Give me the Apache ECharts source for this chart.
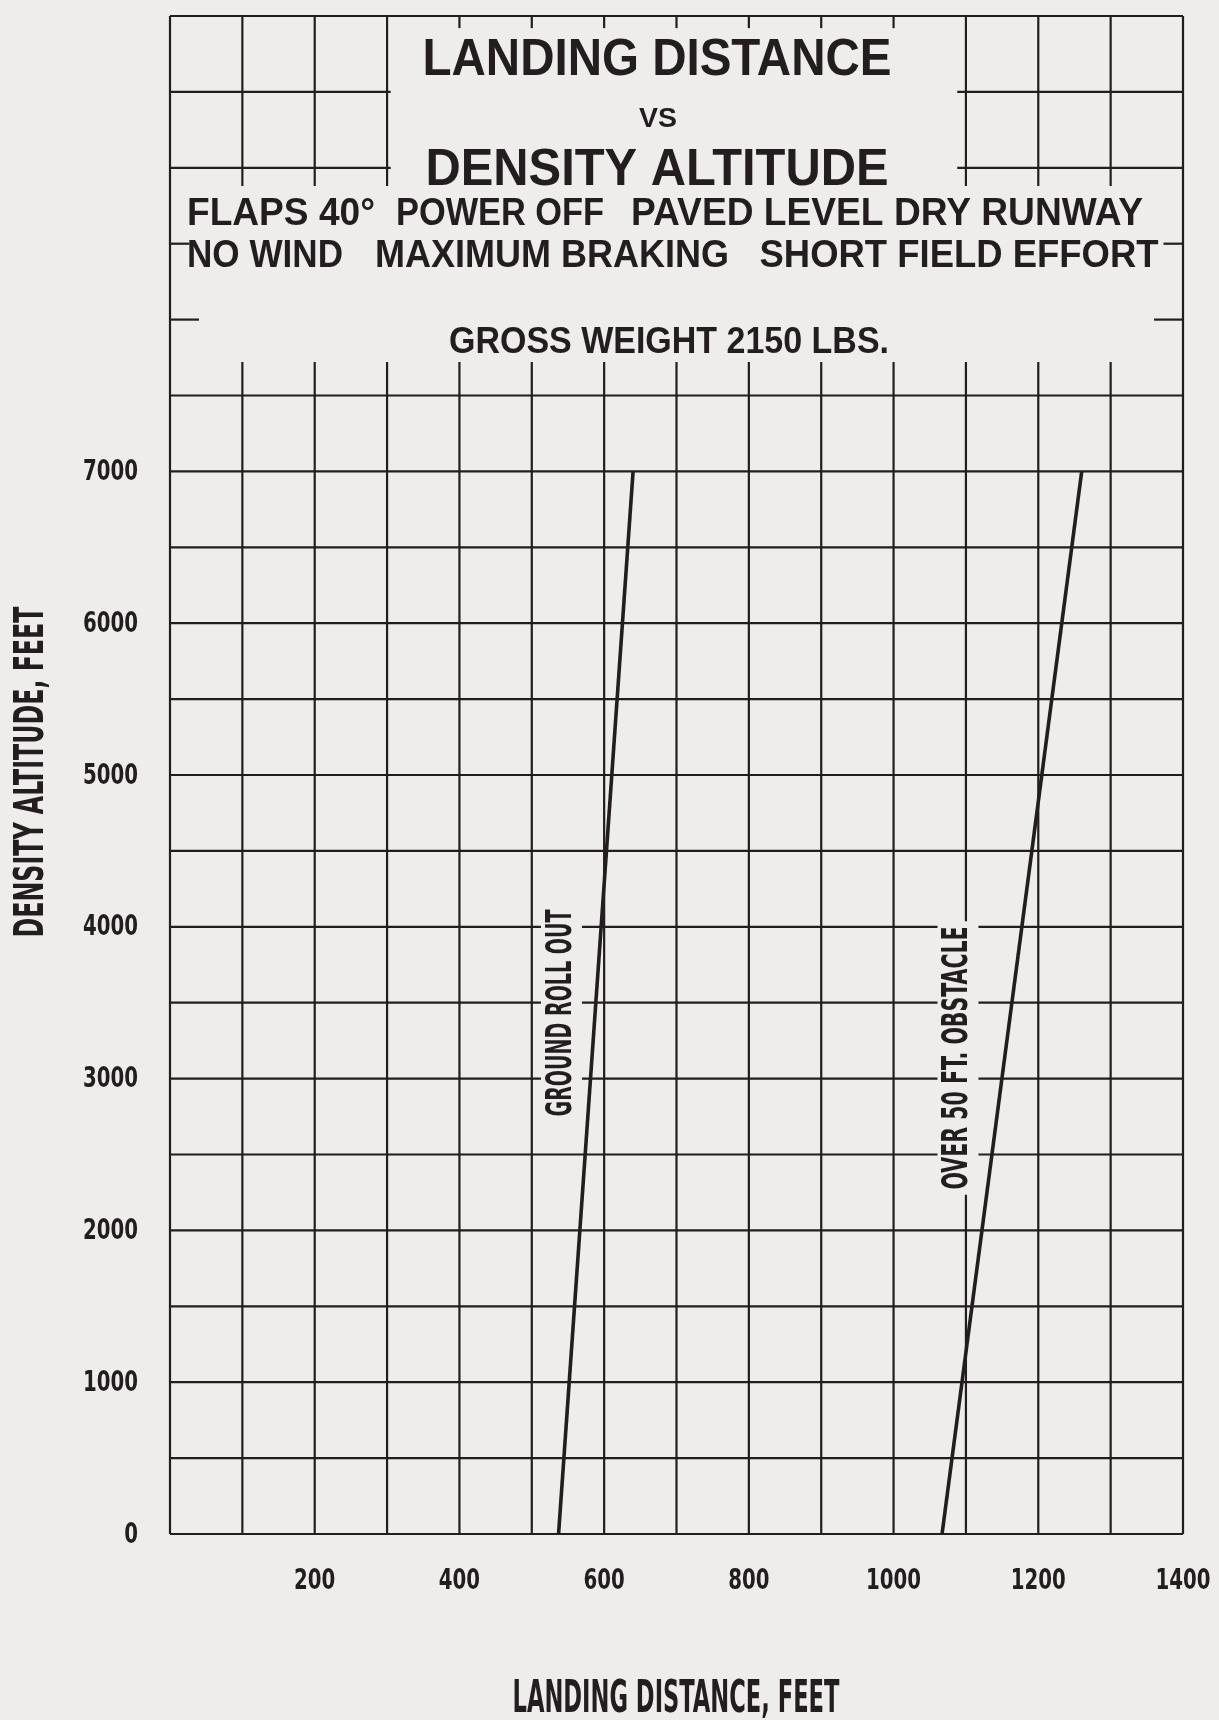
<!DOCTYPE html>
<html><head><meta charset="utf-8">
<script src="https://cdn.jsdelivr.net/npm/echarts@6/dist/echarts.min.js"></script>
<style>html,body{margin:0;padding:0;background:#edeceb}#c{width:1219px;height:1720px}</style>
</head><body><div id="c"></div><script>
// ---- data ----
const groundRoll = [[537, 0], [640, 7000]];
const over50ft = [[1067, 0], [1260, 7000]];
const seriesNames = ['GROUND ROLL OUT', 'OVER 50 FT. OBSTACLE'];
const xTickValues = [200, 400, 600, 800, 1000, 1200, 1400];
const yTickValues = [0, 1000, 2000, 3000, 4000, 5000, 6000, 7000];
const titleMain1 = 'LANDING DISTANCE';
const titleVs = 'VS';
const titleMain2 = 'DENSITY ALTITUDE';
const condLine1 = ['FLAPS 40°', 'POWER OFF', 'PAVED LEVEL DRY RUNWAY'];
const condLine2 = ['NO WIND', 'MAXIMUM BRAKING', 'SHORT FIELD EFFORT'];
const weightText = 'GROSS WEIGHT 2150 LBS.';
const xName = 'LANDING DISTANCE, FEET';
const yName = 'DENSITY ALTITUDE, FEET';

// chart ruling (data coordinates)
const hRules = [500,1000,1500,2000,2500,3000,3500,4000,4500,5000,5500,6000,6500,7000,7500];
const vRules = [100,200,300,400,500,600,700,800,900,1000,1100,1200,1300];
const vRulesTopLong = [100,200,300,1100,1200,1300];
const vRulesTopShort = [400,500,600,700,800,900,1000];
const hRulesTopPartial = [9000, 9500];
const edgeTickRules = [[8500, 27], [8000, 40]];

// ---- build segments ----
const segs = [];
segs.push([0,0,1400,0],[0,10000,1400,10000],[0,0,0,10000],[1400,0,1400,10000]);
hRules.forEach(v => segs.push([0,v,1400,v]));
vRules.forEach(v => segs.push([v,0,v,7720]));
vRulesTopLong.forEach(v => segs.push([v,8880,v,10000]));
vRulesTopShort.forEach(v => segs.push([v,9920,v,10000]));
hRulesTopPartial.forEach(v => { segs.push([0,v,305,v]); segs.push([1088,v,1400,v]); });
edgeTickRules.forEach(([v,len]) => { segs.push([0,v,len,v]); segs.push([1400-len,v,1400,v]); });

const INK = '#231d1f';
const BG = '#eeedec';
const NARROW = '"Liberation Sans Narrow","DejaVu Sans Condensed",sans-serif';
const WIDE = '"Liberation Sans","DejaVu Sans",sans-serif';

const mctx = document.createElement('canvas').getContext('2d');
function fit(text, font, w) { mctx.font = font; return w / mctx.measureText(text).width; }
function txt(text, family, size, cx, cy, w, rot) {
  const font = 'bold ' + size + 'px ' + family;
  return {
    type: 'text', x: cx, y: cy, rotation: rot || 0, scaleX: fit(text, font, w), z: 10,
    style: { text: text, font: font, fill: INK, align: 'center', verticalAlign: 'middle' }
  };
}

const graphics = [
  txt(titleMain1, WIDE, 52, 657, 61, 469),
  txt(titleVs, WIDE, 27, 658, 120, 38),
  txt(titleMain2, WIDE, 52, 657, 171, 463),
  txt(condLine1[0], WIDE, 38, 281, 215, 188),
  txt(condLine1[1], WIDE, 38, 500, 215, 208),
  txt(condLine1[2], WIDE, 38, 887, 215, 512),
  txt(condLine2[0], WIDE, 38, 265, 257, 156),
  txt(condLine2[1], WIDE, 38, 552, 257, 354),
  txt(condLine2[2], WIDE, 38, 959, 257, 399),
  txt(weightText, WIDE, 36, 669, 343, 440),
  txt(xName, NARROW, 44, 676, 1701, 327),
  txt(yName, NARROW, 40, 33, 772, 331, Math.PI / 2)
];

// label anchors (data coords) and lengths
const labelLayout = [
  { at: [541, 3432], len: 207, size: 35 },
  { at: [1089, 3136], len: 263, size: 35 }
];

const TICK_FONT = 'bold 29px ' + NARROW;
const TICK_SCALE = fit('0000', TICK_FONT, 55);

const chart = echarts.init(document.getElementById('c'), null, { renderer: 'canvas' });
chart.setOption({
  backgroundColor: BG,
  animation: false,
  grid: { left: 170, right: 36, top: 16, bottom: 186, containLabel: false, outerBoundsMode: 'none' },
  xAxis: {
    type: 'value', min: 0, max: 1400, interval: 200,
    axisLine: { show: false }, axisTick: { show: false }, splitLine: { show: false },
    axisLabel: { show: false }
  },
  yAxis: {
    type: 'value', min: 0, max: 10000, interval: 1000,
    axisLine: { show: false }, axisTick: { show: false }, splitLine: { show: false },
    axisLabel: { show: false }
  },
  graphic: graphics,
  series: [
    {
      type: 'custom', name: 'rules', data: segs, z: 1, silent: true,
      encode: { x: [0, 2], y: [1, 3] },
      renderItem: (params, api) => {
        const p1 = api.coord([api.value(0), api.value(1)]);
        const p2 = api.coord([api.value(2), api.value(3)]);
        return { type: 'line', shape: { x1: p1[0], y1: p1[1], x2: p2[0], y2: p2[1] },
          style: { stroke: INK, lineWidth: 2.2 } };
      }
    },
    { type: 'line', name: seriesNames[0], data: groundRoll, showSymbol: false, symbol: 'none', z: 3,
      lineStyle: { color: INK, width: 3.6 } },
    { type: 'line', name: seriesNames[1], data: over50ft, showSymbol: false, symbol: 'none', z: 3,
      lineStyle: { color: INK, width: 3.6 } },
    {
      type: 'custom', name: 'labels', z: 5, silent: true,
      data: labelLayout.map(l => l.at),
      renderItem: (params, api) => {
        const i = params.dataIndex, L = labelLayout[i];
        const p = api.coord([api.value(0), api.value(1)]);
        const font = 'bold ' + L.size + 'px ' + NARROW;
        return { type: 'text', x: p[0], y: p[1], rotation: Math.PI / 2, scaleX: fit(seriesNames[i], font, L.len),
          style: { text: seriesNames[i], font: font, fill: INK, align: 'center', verticalAlign: 'middle',
            backgroundColor: BG, padding: [3, 8, 3, 8] } };
      }
    },
    {
      type: 'custom', name: 'xTicks', z: 5, silent: true, clip: false,
      data: xTickValues.map(v => [v, 0]),
      renderItem: (params, api) => {
        const p = api.coord([api.value(0), api.value(1)]);
        return { type: 'text', x: p[0], y: p[1] + 47, scaleX: TICK_SCALE,
          style: { text: String(api.value(0)), font: TICK_FONT, fill: INK, align: 'center', verticalAlign: 'middle' } };
      }
    },
    {
      type: 'custom', name: 'yTicks', z: 5, silent: true, clip: false,
      data: yTickValues.map(v => [0, v]),
      renderItem: (params, api) => {
        const p = api.coord([api.value(0), api.value(1)]);
        return { type: 'text', x: p[0] - 32, y: p[1] + 1, scaleX: TICK_SCALE,
          style: { text: String(api.value(1)), font: TICK_FONT, fill: INK, align: 'right', verticalAlign: 'middle' } };
      }
    }
  ]
});
</script></body></html>
